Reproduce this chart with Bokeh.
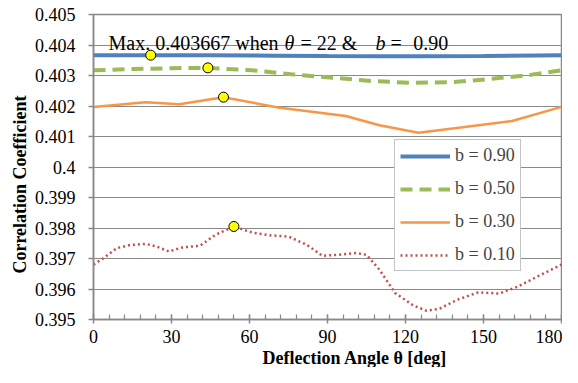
import numpy as np
from bokeh.plotting import figure
from bokeh.models import (Range1d, FixedTicker, CustomJSTickFormatter, Label,
                          Legend, LegendItem, Title)
from bokeh.embed import file_html
from bokeh.resources import INLINE

# ---------------- data ----------------
x_ticks = [0, 30, 60, 90, 120, 150, 180]
y_ticks = [0.395, 0.396, 0.397, 0.398, 0.399, 0.400, 0.401, 0.402, 0.403, 0.404, 0.405]

theta_b90 = [0, 22, 45, 70, 90, 110, 125, 150, 180]
corr_b90 = [0.403662, 0.403667, 0.403660, 0.403650, 0.403640, 0.403635, 0.403630, 0.403640, 0.403660]

theta_b50 = [0, 15, 30, 44, 61, 76, 92, 107, 122, 138, 153, 168, 180]
corr_b50 = [0.40317, 0.40321, 0.40324, 0.40325, 0.40317, 0.40304, 0.40293,
            0.40282, 0.40276, 0.40278, 0.40289, 0.40302, 0.40317]

theta_b30 = [0, 20, 33, 50, 71, 97, 110, 125, 142, 161, 180]
corr_b30 = [0.40197, 0.40212, 0.40206, 0.40229, 0.40195, 0.40167, 0.40137,
            0.40112, 0.40130, 0.40151, 0.40197]

theta_b10 = [0, 4, 9, 14, 20, 24, 29, 34, 41, 47, 54, 61, 68, 75, 82, 88, 94,
             101, 105, 110, 116, 123, 128, 133, 140, 148, 156, 163, 171, 180]
corr_b10 = [0.39680, 0.39702, 0.39734, 0.39744, 0.39748, 0.39740, 0.39723,
            0.39736, 0.39742, 0.39778, 0.39805, 0.39785, 0.39776, 0.39772,
            0.39745, 0.39709, 0.39712, 0.39718, 0.39712, 0.39663, 0.39587,
            0.39546, 0.39529, 0.39535, 0.39565, 0.39589, 0.39585, 0.39607,
            0.39642, 0.39680]

series_labels = ["b = 0.90", "b = 0.50", "b = 0.30", "b = 0.10"]

FONT = "Liberation Serif"
GRID = "#898989"

p = figure(width=562, height=367, output_backend="svg", toolbar_location=None,
           x_range=Range1d(0, 180), y_range=Range1d(0.395, 0.405),
           min_border_left=93, min_border_right=1, min_border_top=14,
           min_border_bottom=47, background_fill_color="white",
           border_fill_color="white")

p.outline_line_color = GRID
p.outline_line_width = 1.5
p.xgrid.grid_line_color = None
p.ygrid.grid_line_color = GRID
p.ygrid.grid_line_width = 1.2

p.xaxis.ticker = FixedTicker(ticks=x_ticks, minor_ticks=list(range(0, 181, 6)))
p.yaxis.ticker = FixedTicker(ticks=y_ticks, minor_ticks=[])
p.yaxis.formatter = CustomJSTickFormatter(code="return parseFloat(tick.toFixed(3)).toString();")

for ax in (p.xaxis, p.yaxis):
    ax.axis_line_color = GRID
    ax.axis_line_width = 1.5
    ax.major_tick_line_color = GRID
    ax.major_tick_line_width = 1.5
    ax.minor_tick_line_color = GRID
    ax.minor_tick_line_width = 1.2
    ax.major_label_text_font = FONT
    ax.major_label_text_font_size = "18px"
    ax.major_label_text_color = "black"

p.xaxis.major_tick_in = 5
p.xaxis.major_tick_out = 4
p.xaxis.minor_tick_in = 5
p.xaxis.minor_tick_out = 0
p.xaxis.major_label_standoff = 6
p.yaxis.major_tick_in = 0
p.yaxis.major_tick_out = 5
p.yaxis.minor_tick_line_color = None
p.yaxis.major_label_standoff = 13

r90 = p.line(theta_b90, corr_b90, line_color="#4F81BD", line_width=4)
r50 = p.line(theta_b50, corr_b50, line_color="#9BBB59", line_width=4, line_dash="12 7")
r30 = p.line(theta_b30, corr_b30, line_color="#F79646", line_width=2.5)
r10 = p.line(theta_b10, corr_b10, line_color="#C0504D", line_width=2.5, line_dash="2 3")

# maximum markers
mx, my = [], []
for t, c in ((theta_b90, corr_b90), (theta_b50, corr_b50),
             (theta_b30, corr_b30), (theta_b10, corr_b10)):
    i = int(np.argmax(c))
    mx.append(t[i]); my.append(c[i])
p.scatter(mx, my, size=10, fill_color="#FFFF00", line_color="black", line_width=1)

legend = Legend(items=[LegendItem(label=series_labels[0], renderers=[r90]),
                       LegendItem(label=series_labels[1], renderers=[r50]),
                       LegendItem(label=series_labels[2], renderers=[r30]),
                       LegendItem(label=series_labels[3], renderers=[r10])],
                location=(301, 48), glyph_width=50, glyph_height=20,
                label_height=20, spacing=12, padding=5, label_standoff=5,
                label_text_font=FONT, label_text_font_size="18px",
                border_line_color=GRID, border_line_width=1.5,
                background_fill_color="white", background_fill_alpha=1.0,
                margin=0)
p.add_layout(legend)

# annotation text
ann_y = 0.404075
pieces = [(5.8, "Max. 0.403667 when", "normal"),
          (73.5, "θ", "italic"),
          (79.6, "= 22 &", "normal"),
          (108.5, "b", "italic"),
          (114.2, "=", "normal"),
          (123.0, "0.90", "normal")]
for xx, txt, st in pieces:
    p.add_layout(Label(x=xx, y=ann_y, text=txt, text_font=FONT,
                       text_font_size="20px", text_font_style=st,
                       text_color="black", text_baseline="alphabetic",
                       text_align="left"))

# axis titles
p.add_layout(Title(text="Deflection Angle  θ [deg]", align="left", offset=169,
                   standoff=0, text_font=FONT, text_font_size="18px",
                   text_font_style="bold", text_color="black"), "below")
p.add_layout(Title(text="Correlation Coefficient", align="right", offset=81,
                   standoff=4, text_font=FONT, text_font_size="18px",
                   text_font_style="bold", text_color="black"), "left")

open("out.html", "w").write(file_html(p, INLINE))
